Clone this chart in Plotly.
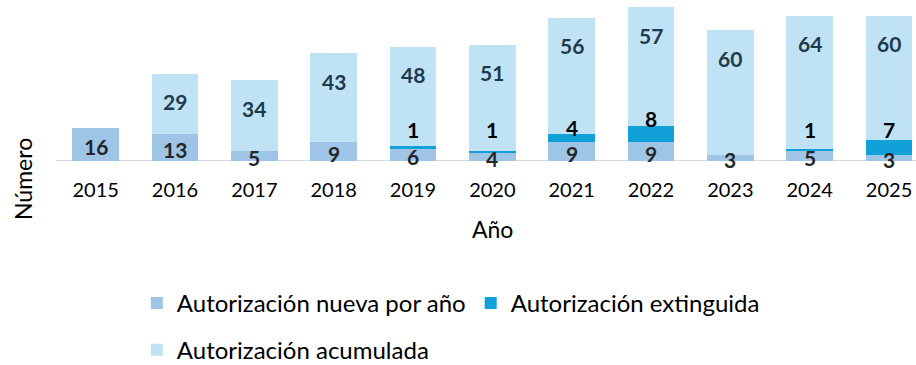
import plotly.graph_objects as go

# Datos por año
years = ["2015", "2016", "2017", "2018", "2019", "2020",
         "2021", "2022", "2023", "2024", "2025"]
nuevas = [16, 13, 5, 9, 6, 4, 9, 9, 3, 5, 3]
extinguidas = [0, 0, 0, 0, 1, 1, 4, 8, 0, 1, 7]
acumuladas = [0, 29, 34, 43, 48, 51, 56, 57, 60, 64, 60]

C_NUEVA = "#9FC5E6"
C_EXT = "#11A0D8"
C_ACUM = "#BFE3F4"
FONT = "Lato"

fig = go.Figure()

fig.add_trace(go.Bar(
    x=years, y=nuevas, name="Autorización nueva por año",
    marker=dict(color=C_NUEVA, line=dict(width=0)),
    legend="legend",
))
fig.add_trace(go.Bar(
    x=years, y=extinguidas, name="Autorización extinguida",
    marker=dict(color=C_EXT, line=dict(width=0)),
    legend="legend",
))
fig.add_trace(go.Bar(
    x=years, y=acumuladas, name="Autorización acumulada",
    marker=dict(color=C_ACUM, line=dict(width=0)),
    legend="legend2",
))

# Etiquetas de valores (por encima de todas las barras)
annotations = []
label_floor = 12  # etiquetas de extinguidas: nunca por debajo de este nivel
for i, (n, e, a) in enumerate(zip(nuevas, extinguidas, acumuladas)):
    annotations.append(dict(
        x=i, y=n / 2, xref="x", yref="y",
        text=str(n), showarrow=False, yanchor="middle", yshift=-2,
        font=dict(family=FONT, size=21, color="#262626", weight="bold"),
    ))
    if e > 0:
        annotations.append(dict(
            x=i, y=max(n + e, label_floor), xref="x", yref="y",
            text=str(e), showarrow=False, yanchor="middle", yshift=7,
            font=dict(family=FONT, size=21, color="#000000", weight="bold"),
        ))
    if a > 0:
        annotations.append(dict(
            x=i, y=n + e + a, xref="x", yref="y",
            text=str(a), showarrow=False, yanchor="middle", yshift=-28,
            font=dict(family=FONT, size=21, color="#1F3A4D", weight="bold"),
        ))

# Títulos de los ejes
annotations.append(dict(
    x=0, y=0, xref="paper", yref="paper", text="Número", textangle=-90,
    showarrow=False, xanchor="center", yanchor="middle", xshift=-33, yshift=-18,
    font=dict(family=FONT, size=23, color="#000000"),
))
annotations.append(dict(
    x=5, y=0, xref="x", yref="paper", text="Año",
    showarrow=False, xanchor="center", yanchor="middle", yshift=-68,
    font=dict(family=FONT, size=23, color="#000000"),
))

fig.update_layout(
    width=916, height=365,
    margin=dict(l=56, r=0, t=0, b=204, autoexpand=False),
    barmode="stack", bargap=0.41,
    plot_bgcolor="white", paper_bgcolor="white",
    font=dict(family=FONT, size=20, color="#000000"),
    showlegend=True,
    legend=dict(
        orientation="h", x=0.094, y=-0.885, xanchor="left", yanchor="middle",
        font=dict(family=FONT, size=24, color="#000000"),
        traceorder="normal", itemwidth=30,
    ),
    legend2=dict(
        orientation="h", x=0.094, y=-1.175, xanchor="left", yanchor="middle",
        font=dict(family=FONT, size=24, color="#000000"),
        itemwidth=30,
    ),
    annotations=annotations,
    # línea base del eje, por debajo de las barras
    shapes=[dict(
        type="line", xref="paper", yref="y", x0=0, x1=1, y0=0, y1=0,
        line=dict(color="#D9D9D9", width=2), layer="below",
    )],
)
fig.update_xaxes(
    type="category",
    range=[-0.5, 10.34], showline=False,
    showgrid=False, zeroline=False, ticks="", ticklabelstandoff=15,
    tickfont=dict(family=FONT, size=20, color="#000000"),
)
fig.update_yaxes(range=[0, 77.6], showgrid=False, showticklabels=False,
                 zeroline=False, showline=False)

fig.write_html("out.html")
